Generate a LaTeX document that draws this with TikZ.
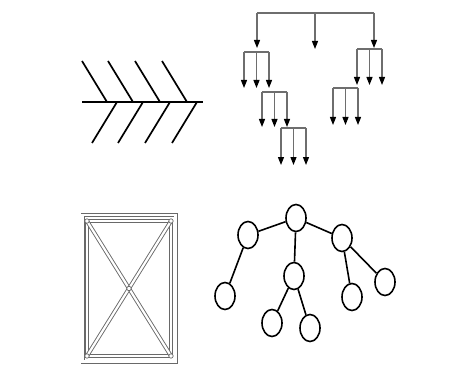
\documentclass[tikz,border=0pt]{standalone}
\usepackage{xcolor}
\usepackage{tikz}
\usetikzlibrary{arrows.meta,shapes.geometric}

\definecolor{orggray}{RGB}{110,110,110}
\definecolor{framegray}{RGB}{105,105,105}

\tikzset{
  bone/.style={line width=1.7pt},
  orgline/.style={orggray, line width=1.3pt},
  orgarrow/.style={orggray, line width=1.3pt, -{Triangle[length=8pt,width=6pt,color=black]}},
  frameline/.style={framegray, line width=0.9pt, double=white, double distance=2.2pt},
  treenode/.style={draw, ellipse, line width=1.6pt, minimum width=20pt, minimum height=27pt, inner sep=0pt},
  treeedge/.style={line width=1.6pt}
}

\begin{document}
\begin{tikzpicture}[x=1pt, y=-1pt]
\useasboundingbox (0,0) rectangle (470,374);

% fishbone
\draw[line width=2.8pt] (82,102) -- (203,102);
\foreach \x in {82,108,135,162}
  \draw[bone] (\x,61) -- ++(25,41);
\foreach \x in {117,143,170,197}
  \draw[bone] (\x,102) -- ++(-25,41);

% org chart
\draw[orgline] (257,13) -- (374,13);
\draw[orgarrow] (257,13) -- (257,48);
\draw[orgarrow] (315,13) -- (315,49);
\draw[orgarrow] (374,13) -- (374,48);
\foreach \xa/\yb/\yc in {244/52/88, 262/92/127, 281/128/165, 357/49/85, 333/88/125} {
  \draw[orgline] (\xa,\yb) -- (\xa+25,\yb);
  \foreach \dx in {0,12.5,25}
    \draw[orgarrow] (\xa+\dx,\yb) -- (\xa+\dx,\yc);
}

% window frame
\draw[frameline] (82.5,215) rectangle (175.5,361.5);
\draw[frameline] (87,221) rectangle (171,356);
\draw[frameline] (87,221) -- (171,356);
\draw[frameline] (171,221) -- (87,356);
\foreach \p in {(87,221),(171,221),(87,356),(171,356),(129,288.5)}
  \draw[framegray, line width=0.7pt, fill=white] \p circle (2.2pt);

% tree
\node[treenode] (root) at (296,218) {};
\node[treenode] (left) at (248,235) {};
\node[treenode] (right) at (342,238) {};
\node[treenode] (mid) at (294,276) {};
\node[treenode] (leafa) at (225,296) {};
\node[treenode] (leafb) at (272,323) {};
\node[treenode] (leafc) at (310,328) {};
\node[treenode] (leafd) at (352,297) {};
\node[treenode] (leafe) at (385,282) {};
\draw[treeedge] (root) -- (left);
\draw[treeedge] (root) -- (right);
\draw[treeedge] (root) -- (mid);
\draw[treeedge] (left) -- (leafa);
\draw[treeedge] (mid) -- (leafb);
\draw[treeedge] (mid) -- (leafc);
\draw[treeedge] (right) -- (leafd);
\draw[treeedge] (right) -- (leafe);
\end{tikzpicture}
\end{document}
